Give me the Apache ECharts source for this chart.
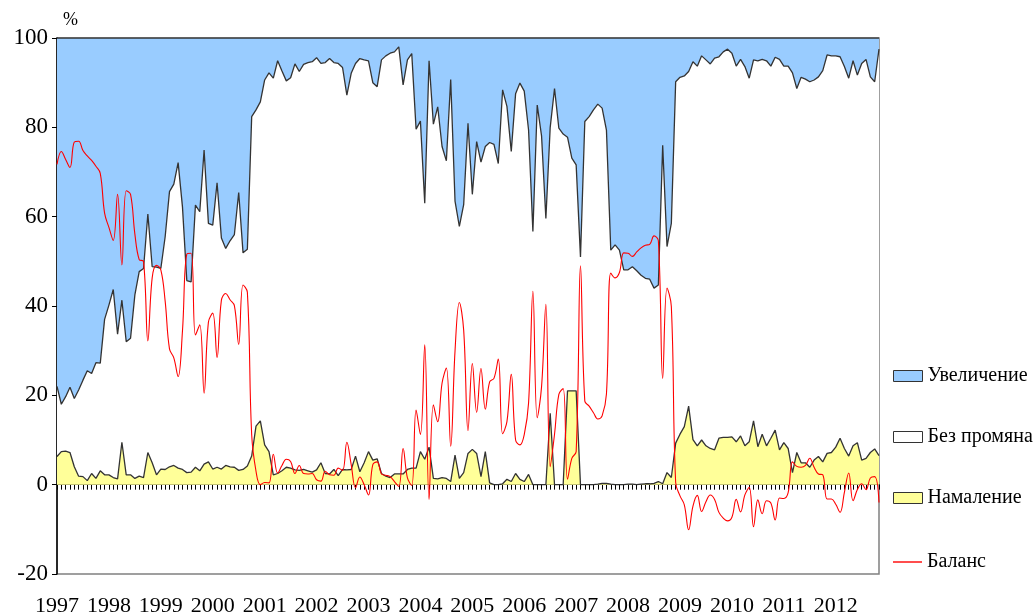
<!DOCTYPE html>
<html><head><meta charset="utf-8">
<script src="https://cdn.jsdelivr.net/npm/echarts@6/dist/echarts.min.js"></script>
<style>html,body{margin:0;padding:0;background:#fff}#c{width:1036px;height:613px}</style>
</head><body><div id="c"></div>
<script>
const years = ['1997','1998','1999','2000','2001','2002','2003','2004','2005','2006','2007','2008','2009','2010','2011','2012'];

const namalenie = [
6.3,7.4,7.5,7.2,4,1.9,1.8,0.9,2.5,1.4,3.1,2.2,
2.2,1.6,1.3,9.5,2.2,2.2,1.4,1.9,1.6,7.2,4.9,2.2,
3.5,3.4,4,4.3,3.7,3.4,2.7,2.8,3.9,3.1,4.6,5.1,
3.5,3.9,3.5,4.3,4,3.9,3.2,3.4,4.2,6.4,13.1,14.3,
8.9,7.4,2.2,2.5,3.1,3.9,3.7,3.3,3.2,3.4,3.1,2.8,
3.3,4.9,2.5,2.4,3.4,2,3.4,3.3,3.4,6.4,2.9,4.9,
7.4,5.5,5.8,2.5,1.9,1.6,2.4,2.4,2.4,3.4,3.7,3.7,
7.4,5.7,8.4,1.4,1.3,1.6,1.4,0.7,6.6,1.4,2.7,7,
7.9,7,1.8,7.4,0.4,0,0,0.2,1.2,0.7,2.5,1.2,
0.7,2.3,0,0,0,0,16,0,0,0,21,21,
21,0,0,0,0,0.1,0.3,0.3,0.1,0,0,0,
0.1,0.1,0,0.1,0.2,0.2,0.3,0.7,0.2,2.7,1.6,9.3,
11.3,13,17.6,10.1,8.7,10,8.7,8.1,7.8,10.4,10.6,10.6,
10.7,9.6,10.9,8.7,9.6,14.3,8.5,11.3,8.7,10.4,12.2,7.8,
9.4,8.1,2.7,7.2,4.9,4.9,3.9,5.5,6.3,5.1,7,7.2,
8.4,10.4,8.1,6.4,8.7,9.4,5.5,5.9,7.2,8,6.5];

const bezPromyana = [
15.7,10.6,12.2,14.6,15.3,19.3,21.6,24.6,22.4,25.9,24.1,34.8,
38,42.1,32.4,31.8,29.8,30.6,41.1,45.8,46.8,53.4,43.9,46.5,
44.9,52.1,61.6,63,68.4,58.8,43,42.6,58.7,58,70.3,53.4,
54.6,63.7,51.7,48.6,50.6,52.1,62.2,48.5,48.5,76,70.8,71.4,
81.7,84.8,88.8,92.4,89.5,86.5,87.4,90.9,89.3,90.7,91.4,91.9,
92.3,89.4,92,93,91.1,92.3,90,83.9,88.7,87.9,92.5,90.2,
87.5,84.5,83.3,92.6,94.1,95,94.5,95.6,87.1,91.7,92.8,75.9,
74,57.3,86.5,79.3,83.3,74.1,71.1,90,56.9,56.4,60,73.9,
57.1,69.8,70.4,68.3,76.2,76.2,71.9,88.2,83.5,73.9,85,88.7,
87.4,77.1,56.7,85,78.1,59.6,64,88.7,79.8,78.5,56.8,52.1,
50.6,51,81.3,82.4,83.9,85.1,84,79.1,52.4,53.7,52.5,48.1,
48,48.7,47.9,46.8,46,45.8,43.7,44,75.8,50.6,56.9,80.9,
79.9,78.5,74.9,84.6,85,86,86.4,86.1,87.7,85.4,86.3,86.9,
85.9,84.1,84.3,84.9,81.4,80.8,86.4,83.9,86.2,83.3,83.5,87.4,
84.3,85.6,89.5,81.5,86.3,85.9,86.3,85.1,85,87.6,89.2,88.8,
87.6,85.4,85.5,84.6,86.2,82.3,88.8,89.3,84.1,82.2,91];

const uvelichenie = [
78,82,80.3,78.2,80.7,78.8,76.6,74.5,75.1,72.7,72.8,63,
59.8,56.3,66.3,58.7,68,67.2,57.5,52.3,51.6,39.4,51.2,51.3,
51.6,44.5,34.4,32.7,27.9,37.8,54.3,54.6,37.4,38.9,25.1,41.5,
41.9,32.4,44.8,47.1,45.4,44,34.6,48.1,47.3,17.6,16.1,14.3,
9.4,7.8,9,5.1,7.4,9.6,8.9,5.8,7.5,5.9,5.5,5.3,
4.4,5.7,5.5,4.6,5.5,5.7,6.6,12.8,7.9,5.7,4.6,4.9,
5.1,10,10.9,4.9,4,3.4,3.1,2,10.5,4.9,3.5,20.4,
18.6,37,5.1,19.3,15.4,24.3,27.5,9.3,36.5,42.2,37.3,19.1,
35,23.2,27.8,24.3,23.4,23.8,28.1,11.6,15.3,25.4,12.5,10.1,
11.9,20.6,43.3,15,21.9,40.4,20,11.3,20.2,21.5,22.2,26.9,
28.4,49,18.7,17.6,16.1,14.8,15.7,20.6,47.5,46.3,47.5,51.9,
51.9,51.2,52.1,53.1,53.8,54,56,55.3,24,46.7,41.5,9.8,
8.8,8.5,7.5,5.3,6.3,4,4.9,5.8,4.5,4.2,3.1,2.5,
3.4,6.3,4.8,6.4,9,4.9,5.1,4.8,5.1,6.3,4.3,4.8,
6.3,6.3,7.8,11.3,8.8,9.2,9.8,9.4,8.7,7.3,3.8,4,
4,4.2,6.4,9,5.1,8.3,5.7,4.8,8.7,9.8,2.5];

const balans = [
71.7,74.6,72.8,71,76.7,76.9,74.8,73.6,72.6,71.3,69.7,60.8,
57.6,54.7,65,49.2,65.8,65,56.1,50.4,50,32.2,46.3,49.1,
48.1,41.1,30.4,28.4,24.2,34.4,51.6,51.8,33.5,35.8,20.5,36.4,
38.4,28.5,41.3,42.8,41.4,40.1,31.4,44.7,43.1,11.2,3,0,
0.5,0.4,6.8,2.6,4.3,5.7,5.2,2.5,4.3,2.5,2.4,2.5,
1.1,0.8,3,2.2,2.1,3.7,3.2,9.5,4.5,-0.7,1.7,0,
-2.3,4.5,5.1,2.4,2.1,1.8,0.7,-0.4,8.1,1.5,-0.2,16.7,
11.2,31.3,-3.3,17.9,14.1,22.7,26.1,8.6,29.9,40.8,34.6,12.1,
27.1,16.2,26,16.9,23,23.8,28.1,11.4,14.1,24.7,10,8.9,
11.2,18.3,43.3,15,21.9,40.4,4,11.3,20.2,21.5,1.2,5.9,
7.4,49,18.7,17.6,16.1,14.7,15.4,20.3,47.4,46.3,47.5,51.9,
51.8,51.1,52.1,53,53.6,53.8,55.7,54.6,23.8,44,39.9,0.5,
-2.5,-4.5,-10.1,-4.8,-2.4,-6,-3.8,-2.3,-3.3,-6.2,-7.5,-8.1,
-7.3,-3.3,-6.1,-2.3,-0.6,-9.4,-3.4,-6.5,-3.6,-4.1,-7.9,-3,
-3.1,-1.8,5.1,4.1,3.9,4.3,5.9,3.9,2.4,2.2,-3.2,-3.2,
-4.4,-6.2,-1.7,2.6,-3.6,-1.1,0.2,-1.1,1.5,1.8,-4];

const seriesNames = ['Увеличение','Без промяна','Намаление','Баланс'];
const yTicks = {min:-20, max:100, step:20};

const categories = [];
years.forEach(y => { for (let m = 1; m <= 12; m++) categories.push(y + '-' + m); });
categories.length = namalenie.length;

const FONT = '"Liberation Serif","Times New Roman",serif';
const EDGE = {color:'#333333', width:1.3};
const chart = echarts.init(document.getElementById('c'));

function legendItem(item, top, h) {
  return {
    data:[item], orient:'vertical', left:893, top:top, padding:0, itemWidth:29, itemHeight:h,
    selectedMode:false, textStyle:{fontFamily:FONT, fontSize:20, color:'#000'}
  };
}

chart.setOption({
  animation:false,
  backgroundColor:'#ffffff',
  title:{text:'%', left:58, top:6, textStyle:{fontFamily:FONT, fontSize:18, fontWeight:'normal', color:'#000'}},
  grid:{left:57, right:157, top:38, bottom:39, show:true, borderColor:'#808080', borderWidth:1.5,
        containLabel:false, outerBoundsMode:'none'},
  legend:[
    legendItem({name:seriesNames[0], icon:'rect', itemStyle:{color:'#99CCFF', borderColor:'#333', borderWidth:1}}, 366, 11),
    legendItem({name:seriesNames[1], icon:'rect', itemStyle:{color:'#FFFFFF', borderColor:'#333', borderWidth:1}}, 427, 11),
    legendItem({name:seriesNames[2], icon:'rect', itemStyle:{color:'#FFFF99', borderColor:'#333', borderWidth:1}}, 488, 11),
    legendItem({name:seriesNames[3], icon:'rect', itemStyle:{color:'#FF0000', borderWidth:0}}, 552, 1.4)
  ],
  xAxis:[
    {type:'category', data:categories, boundaryGap:false, position:'bottom',
     axisLine:{onZero:true, lineStyle:{color:'#000', width:1}},
     axisTick:{show:true, interval:0, length:5, lineStyle:{color:'#000', width:1}},
     axisLabel:{show:false}, splitLine:{show:false}},
    {type:'category', data:categories, boundaryGap:false, position:'bottom',
     axisLine:{show:false, onZero:false}, axisTick:{show:false}, splitLine:{show:false},
     axisLabel:{interval:11, margin:21, fontFamily:FONT, fontSize:22, color:'#000',
       formatter:v => v.split('-')[0]}}
  ],
  yAxis:{type:'value', min:yTicks.min, max:yTicks.max, interval:yTicks.step,
    axisLine:{show:true, lineStyle:{color:'#000', width:1.5}},
    axisTick:{show:true, length:5, lineStyle:{color:'#000'}},
    axisLabel:{margin:9, fontFamily:FONT, fontSize:23, color:'#000'},
    splitLine:{show:false}},
  series:[
    {name:seriesNames[2], type:'line', stack:'s', data:namalenie, symbol:'none', z:4,
     lineStyle:EDGE, itemStyle:{color:'#FFFF99'}, areaStyle:{color:'#FFFF99', opacity:1}},
    {name:seriesNames[1], type:'line', stack:'s', data:bezPromyana, symbol:'none', z:3,
     lineStyle:EDGE, itemStyle:{color:'#FFFFFF'}, areaStyle:{color:'#FFFFFF', opacity:1}},
    {name:seriesNames[0], type:'line', stack:'s', data:uvelichenie, symbol:'none', z:2,
     lineStyle:EDGE, itemStyle:{color:'#99CCFF'}, areaStyle:{color:'#99CCFF', opacity:1}},
    {name:seriesNames[3], type:'line', data:balans, symbol:'none', smooth:0.4, z:6,
     lineStyle:{color:'#FF0000', width:1.1}, itemStyle:{color:'#FF0000'}}
  ]
});
</script>
</body></html>
